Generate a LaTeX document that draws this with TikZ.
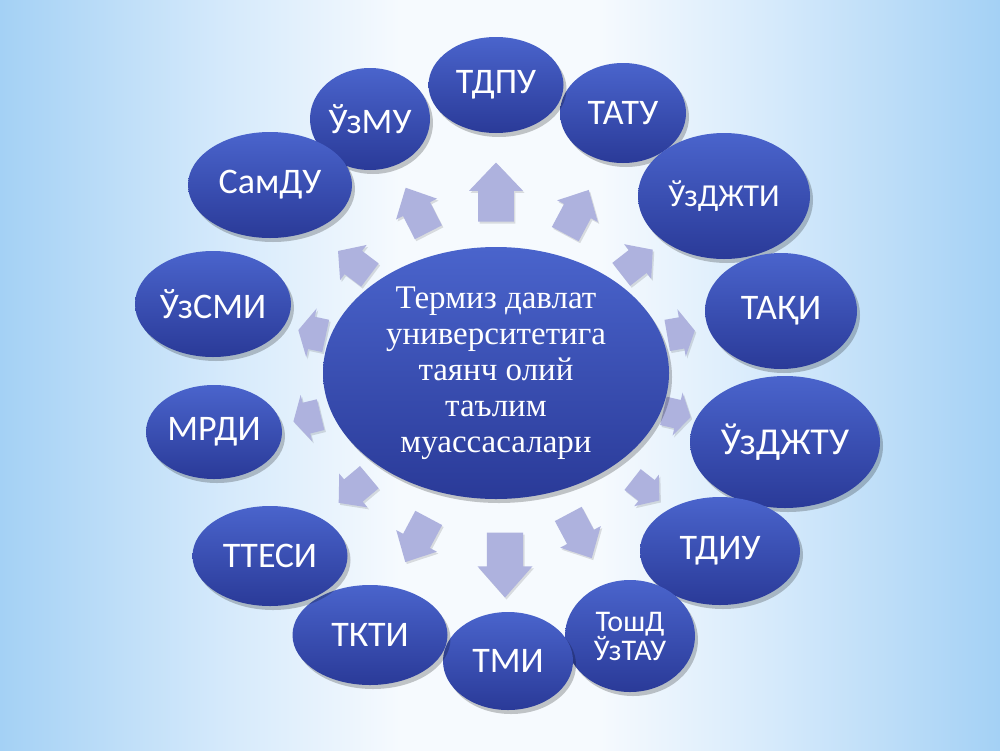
\documentclass[tikz,border=0pt]{standalone}
\usepackage{fontspec}
\setmainfont{Liberation Serif}
\newfontfamily\lblfont{Carlito}
\usetikzlibrary{shapes.geometric}
\definecolor{ovalA}{RGB}{74,100,204}
\definecolor{ovalB}{RGB}{42,58,152}
\definecolor{arrc}{RGB}{174,178,222}
\definecolor{bgout}{RGB}{164,209,245}
\definecolor{bgmid}{RGB}{212,233,251}
\definecolor{bgin}{RGB}{246,250,254}
\pgfdeclarehorizontalshading{bgsh}{100bp}{color(0bp)=(bgout); color(25bp)=(bgout); color(36bp)=(bgmid); color(45bp)=(bgin); color(55bp)=(bgin); color(64bp)=(bgmid); color(75bp)=(bgout); color(100bp)=(bgout)}
\newcommand\barrow[6]{%
  \begin{scope}[shift={(#2,#3)},rotate=#4]
    \fill[black,opacity=0.12,transform canvas={xshift=1.5pt,yshift=-2pt}]
      ({-0.5*#5},{-0.33*#6}) -- ({0.02*#5},{-0.33*#6}) -- ({0.02*#5},{-0.5*#6}) --
      ({0.5*#5},0) -- ({0.02*#5},{0.5*#6}) -- ({0.02*#5},{0.33*#6}) -- ({-0.5*#5},{0.33*#6}) -- cycle;
    \fill[arrc]
      ({-0.5*#5},{-0.33*#6}) coordinate (#1) -- ({0.02*#5},{-0.33*#6}) -- ({0.02*#5},{-0.5*#6}) --
      ({0.5*#5},0) -- ({0.02*#5},{0.5*#6}) -- ({0.02*#5},{0.33*#6}) -- ({-0.5*#5},{0.33*#6}) -- cycle;
  \end{scope}}
\begin{document}
\begin{tikzpicture}[x=1pt,y=-1pt,
  oval/.style={ellipse, inner sep=0pt, top color=ovalA, bottom color=ovalB,
    text=white, font=\lblfont\fontsize{36}{37}\selectfont, align=center,
    preaction={fill=black, opacity=0.22, transform canvas={xshift=3pt,yshift=-4pt}}},
  centre/.style={oval, font=\fontsize{33}{36}\selectfont}]
\useasboundingbox (0,0) rectangle (1000,750);
\shade[shading=bgsh] (0,0) rectangle (1000,750);

% arrows
\barrow{a1}{496}{192}{90}{59}{54}
\barrow{a2}{577}{212}{62}{50}{46}
\barrow{a3}{637}{262}{38}{40}{44}
\barrow{a4}{681}{333}{10}{28}{48}
\barrow{a5}{677}{414}{-13}{28}{44}
\barrow{a6}{646}{490}{-38}{34}{40}
\barrow{a7}{580}{536}{-62}{50}{46}
\barrow{a8}{505}{565}{-90}{65}{55}
\barrow{a9}{417}{540}{-118}{50}{46}
\barrow{a10}{354}{490}{-140}{40}{44}
\barrow{a11}{307}{418}{-166}{28}{48}
\barrow{a12}{312}{333}{168}{28}{50}
\barrow{a13}{354}{263}{143}{40}{44}
\barrow{a14}{417}{210}{117}{50}{46}

% centre
\node[centre, minimum width=346, minimum height=252] (c) at (496,373)
  {Термиз давлат\\университетига\\таянч олий\\таълим\\муассасалари};

% outer
\node[oval, minimum width=120, minimum height=102] (n14) at (370,119) {ЎзМУ};
\node[oval, minimum width=126, minimum height=100] (n2) at (623,113) {ТАТУ};
\node[oval, minimum width=135, minimum height=96] (n1) at (496,85) {ТДПУ};
\node[oval, minimum width=172, minimum height=126, font=\lblfont\fontsize{32}{33}\selectfont] (n3) at (724,196) {ЎзДЖТИ};
\node[oval, minimum width=152, minimum height=116] (n4) at (781,311) {ТАҚИ};
\node[oval, minimum width=190, minimum height=132, font=\lblfont\fontsize{38}{39}\selectfont] (n5) at (785,442) {ЎзДЖТУ};
\node[oval, minimum width=160, minimum height=108] (n6) at (720,551) {ТДИУ};
\node[oval, minimum width=130, minimum height=112, font=\lblfont\fontsize{30}{29}\selectfont] (n7) at (630,636) {ТошД\\ЎзТАУ};
\node[oval, minimum width=130, minimum height=98] (n8) at (508,661) {ТМИ};
\node[oval, minimum width=155, minimum height=100] (n9) at (370,635) {ТКТИ};
\node[oval, minimum width=155, minimum height=100] (n10) at (270,556) {ТТЕСИ};
\node[oval, minimum width=136, minimum height=94] (n11) at (214,432) {МРДИ};
\node[oval, minimum width=156, minimum height=106] (n12) at (213,304) {ЎзСМИ};
\node[oval, minimum width=164, minimum height=106] (n13) at (270,185) {СамДУ};
\end{tikzpicture}
\end{document}
